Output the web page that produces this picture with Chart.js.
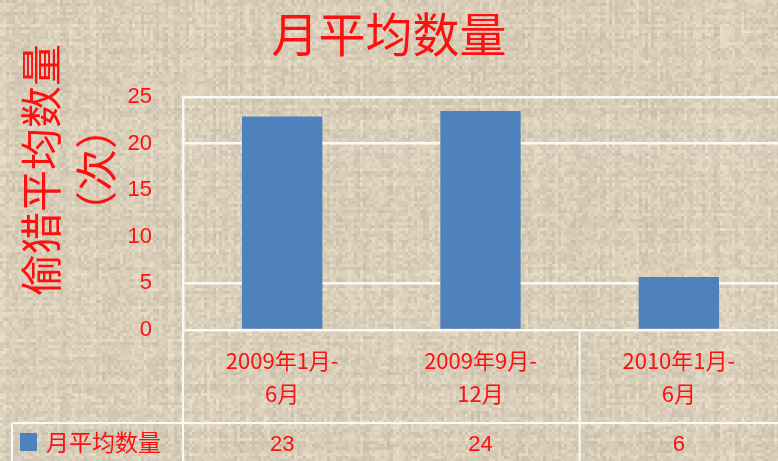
<!DOCTYPE html>
<html>
<head>
<meta charset="utf-8">
<script src="https://cdn.jsdelivr.net/npm/chart.js@4/dist/chart.umd.min.js"></script>
<style>
  html, body { margin: 0; padding: 0; background: #dacfb9; }
  #wrap { width: 778px; height: 461px; position: relative; }
</style>
</head>
<body>
<div id="wrap"><canvas id="c" width="778" height="461"></canvas></div>
<script>
// ---- data ----
const chartTitle = "月平均数量";
const yAxisTitle = ["偷猎平均数量", "（次）"];
const seriesName = "月平均数量";
const categories = [["2009年1月-", "6月"], ["2009年9月-", "12月"], ["2010年1月-", "6月"]];
const values = [22.9, 23.5, 5.7];
const tableLabels = ["23", "24", "6"];
const yTickValues = [0, 5, 10, 15, 20, 25];
const hiddenGridValues = [10, 15];

// ---- styles ----
const RED = "#ff1010";
const BAR = "#4f81bd";
const GRID = "#fbf9f5";
const CJK = "'Noto Sans CJK SC', 'Noto Sans', sans-serif";
const NUM = "'Liberation Sans', 'Noto Sans CJK SC', sans-serif";

// deterministic burlap-like texture
function hash(a, b) {
  let h = Math.imul(a, 374761393) + Math.imul(b, 668265263);
  h = Math.imul(h ^ (h >>> 13), 1274126177);
  h ^= h >>> 16;
  return (h >>> 0) / 4294967296;
}
const tex = document.createElement('canvas');
tex.width = 778; tex.height = 461;
(function () {
  const t = tex.getContext('2d');
  const cell = 3;
  for (let gy = 0; gy * cell < 461; gy++) {
    const rowShade = (hash(7, gy) - 0.5) * 10;
    for (let gx = 0; gx * cell < 778; gx++) {
      const colShade = (hash(gx, 11) - 0.5) * 10;
      const n = (hash(gx, gy) - 0.5) * 24 + rowShade + colShade;
      const r = Math.round(217 + n), g = Math.round(206 + n * 0.95), b = Math.round(185 + n * 0.9);
      t.fillStyle = `rgb(${r},${g},${b})`;
      t.fillRect(gx * cell, gy * cell, cell, cell);
    }
  }
})();

const decor = {
  id: 'decor',
  beforeDraw(chart) {
    chart.ctx.drawImage(tex, 0, 0);
  },
  afterDraw(chart) {
    const ctx = chart.ctx;
    const xs = chart.scales.x;
    const area = chart.chartArea;
    const H = chart.height, W = chart.width;
    const rowTop = 423;
    ctx.save();
    // table lines
    ctx.strokeStyle = GRID;
    ctx.lineWidth = 2;
    ctx.beginPath();
    ctx.moveTo(area.left, area.bottom); ctx.lineTo(area.left, H);
    const b23 = (xs.getPixelForTick(1) + xs.getPixelForTick(2)) / 2;
    ctx.moveTo(b23, area.bottom); ctx.lineTo(b23, H);
    ctx.moveTo(12, rowTop); ctx.lineTo(W, rowTop);
    ctx.moveTo(12, rowTop); ctx.lineTo(12, H);
    ctx.stroke();

    // legend key + name
    ctx.fillStyle = BAR;
    ctx.fillRect(20, 433, 17, 18);
    ctx.fillStyle = RED;
    ctx.font = "23px " + CJK;
    ctx.textAlign = 'left';
    ctx.textBaseline = 'middle';
    ctx.fillText(seriesName, 46, 442);

    // values row
    ctx.font = "22px " + NUM;
    ctx.textAlign = 'center';
    tableLabels.forEach((s, i) => {
      ctx.fillText(s, xs.getPixelForTick(i), 445);
    });

    // title
    ctx.font = "47px " + CJK;
    ctx.textAlign = 'center';
    ctx.textBaseline = 'middle';
    ctx.fillText(chartTitle, W / 2, 34);

    // y-axis title (rotated, two lines)
    ctx.rotate(-Math.PI / 2);
    ctx.font = "42px " + CJK;
    ctx.fillText(yAxisTitle[0], -170, 41);
    ctx.fillText(yAxisTitle[1], -170, 96);
    ctx.restore();
  }
};

new Chart(document.getElementById('c'), {
  type: 'bar',
  data: {
    labels: categories,
    datasets: [{
      label: seriesName,
      data: values,
      backgroundColor: BAR,
      borderWidth: 0,
      categoryPercentage: 1,
      barPercentage: 0.405
    }]
  },
  options: {
    responsive: false,
    animation: false,
    events: [],
    layout: { padding: { top: 97, left: 0, right: 0, bottom: 0 } },
    plugins: { legend: { display: false }, title: { display: false }, tooltip: { enabled: false } },
    scales: {
      x: {
        offset: true,
        grid: { display: false, drawTicks: false },
        border: { display: false },
        ticks: {
          color: RED,
          padding: 14,
          maxRotation: 0,
          autoSkip: false,
          font: { family: CJK, size: 22, lineHeight: 1.5 }
        },
        afterFit(s) { s.height = 131; }
      },
      y: {
        min: 0, max: 25,
        afterBuildTicks(s) { s.ticks = yTickValues.map(v => ({ value: v })); },
        grid: {
          drawTicks: false,
          lineWidth: 2.5,
          color: (c) => hiddenGridValues.includes(c.tick && c.tick.value) ? 'rgba(255,255,255,0.06)' : GRID
        },
        border: { display: true, color: GRID, width: 2.5 },
        ticks: {
          color: RED,
          padding: 31,
          font: { family: NUM, size: 22 }
        },
        afterFit(s) { s.width = 183; }
      }
    }
  },
  plugins: [decor]
});
</script>
</body>
</html>
